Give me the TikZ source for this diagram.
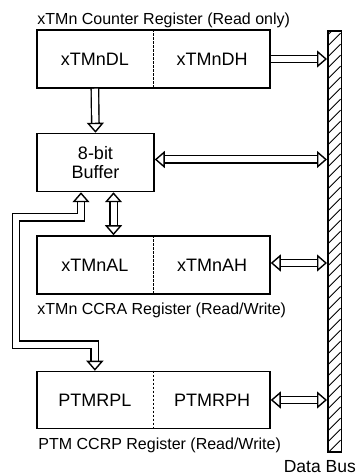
\documentclass[tikz,border=0pt]{standalone}
\usepackage{fontspec}
\setmainfont{Liberation Sans}
\usetikzlibrary{positioning,arrows.meta,calc}

\begin{document}
\begin{tikzpicture}[x=1pt,y=1pt,>={Triangle[open,length=10pt,width=17pt]},
   reg/.style={draw,line width=1.5pt,minimum width=233pt,minimum height=58pt,inner sep=0pt},
   buffer/.style={draw,line width=1.5pt,minimum width=117pt,minimum height=58pt,inner sep=0pt,
     align=center,font=\fontsize{18}{19}\selectfont},
   regtext/.style={font=\fontsize{18}{20}\selectfont},
   regcap/.style={font=\fontsize{16}{18}\selectfont,inner sep=0pt,anchor=base west},
   divider/.style={line width=1.3pt,dash pattern=on 2.5pt off 1.5pt},
   wide/.style={double,double distance=6pt,line width=1.4pt}]
  \useasboundingbox (0,0) rectangle (356,476);

  % registers and buffer
  \node[reg] (cnt) at (153.5,417) {};
  \node[buffer,below right=44pt and 0pt of cnt.south west] (buf) {8-bit\\Buffer};
  \node[reg,below right=43pt and 0pt of buf.south west] (ccra) {};
  \node[reg,below right=76pt and 0pt of ccra.south west,minimum height=57pt] (ptm) {};
  \node[draw,line width=1.5pt,minimum width=13.5pt,minimum height=421pt,inner sep=0pt]
    (bus) at (334.5,234.5) {};

  \foreach \r/\lo/\hi in {cnt/xTMnDL/xTMnDH, ccra/xTMnAL/xTMnAH, ptm/PTMRPL/PTMRPH} {
    \draw[divider] (\r.north) -- (\r.south);
    \node[regtext] (\r lo) at ($(\r.west)!0.25!(\r.east)$) {\lo};
    \node[regtext] (\r hi) at ($(\r.west)!0.75!(\r.east)$) {\hi};
  }

  \node[regcap] (cntcap) at ([shift={(1,5)}]cnt.north west) {xTMn Counter Register (Read only)};
  \node[regcap] (ccracap) at ([shift={(1,-20)}]ccra.south west) {xTMn CCRA Register (Read/Write)};
  \node[regcap] (ptmcap) at ([shift={(2,-20)}]ptm.south west) {PTM CCRP Register (Read/Write)};
  \node[font=\fontsize{17.5}{18}\selectfont,inner sep=0pt,anchor=base east] (buscap) at (356,4) {Data Bus};

  % hatching of the data bus
  \begin{scope}
    \clip (bus.south west) rectangle (bus.north east);
    \foreach \k in {0,...,40}
      \draw[line width=0.8pt] ([yshift=\k*11pt-12pt]bus.south west) -- ++(13.5,13.5);
  \end{scope}

  % transfer paths
  \draw[wide,->] (cnt.east) -- (cnt.east -| bus.west);
  \draw[wide,->] ($(cnt.south west)!0.25!(cnt.south east)$) -- (buf.north);
  \draw[wide,<->] ([yshift=3pt]buf.east) -- ([yshift=3pt]buf.east -| bus.west);
  \draw[wide,<->] ([xshift=18pt]buf.south) -- ([xshift=18pt]buf.south |- ccra.north);
  \draw[wide,<->] ([yshift=2pt]ccra.east) -- ([yshift=2pt]ccra.east -| bus.west);
  \draw[wide,<->] (ptm.east) -- (ptm.east -| bus.west);
  \coordinate (ptmin) at ($(ptm.north west)!0.25!(ptm.north east)$);
  \draw[wide,<->] ([xshift=-14.5pt]buf.south) -- ++(0,-25) -- ++(-65,0)
    |- ([yshift=26pt]ptmin) -- (ptmin);
\end{tikzpicture}
\end{document}
